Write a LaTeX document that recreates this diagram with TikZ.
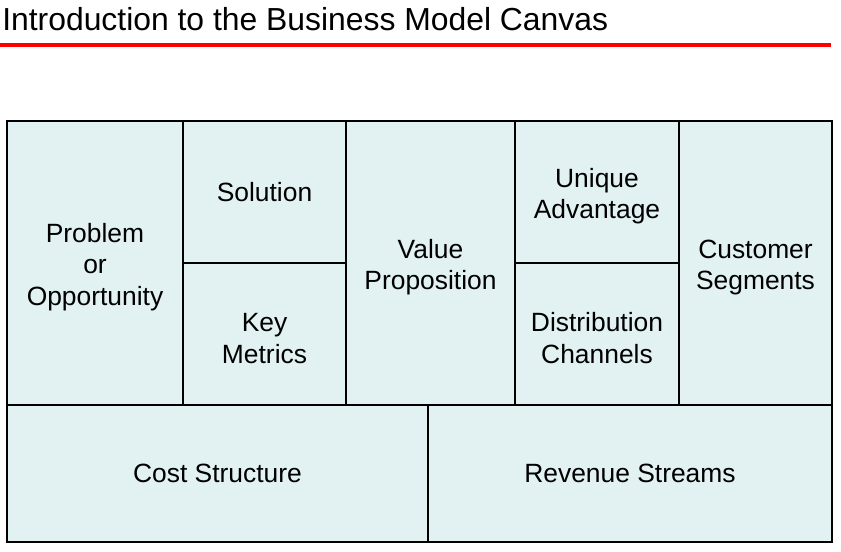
\documentclass[tikz,border=0pt]{standalone}
\usepackage{fontspec}
\setmainfont{Liberation Sans}
\definecolor{canvasfill}{HTML}{E2F1F1}
\definecolor{titlered}{HTML}{FF0000}
\newcommand\liftstrut{\rule{0pt}{20.5pt}}

\begin{document}
\begin{tikzpicture}[x=0.75pt, y=-0.75pt,
  cell/.style 2 args={draw=black, line width=1.5pt, fill=canvasfill,
    minimum width=#1*0.75pt, minimum height=#2*0.75pt, inner sep=0pt,
    align=center, font=\fontsize{19.8}{23.5}\selectfont}]
\useasboundingbox (0,0) rectangle (841,551);
% heading and red rule
\node[anchor=base west, inner sep=0pt, font=\fontsize{23.9}{28}\selectfont] (title) at (2,30) {Introduction to the Business Model Canvas};
\coordinate (rulestart) at (0,44.5);
\coordinate (ruleend) at (831,44.5);
\draw[titlered, line width=3pt] (rulestart) -- (ruleend);
% upper row of the canvas
\node[cell={176}{284}] (problem) at (95,263) {\liftstrut Problem\\or\\Opportunity};
\node[cell={163}{142}] (solution) at (264.5,192) {Solution};
\node[cell={163}{142}] (metrics) at (264.5,334) {\liftstrut Key\\Metrics};
\node[cell={169}{284}] (value) at (430.5,263) {\liftstrut Value\\Proposition};
\node[cell={164}{142}] (advantage) at (597,192) {\liftstrut Unique\\Advantage};
\node[cell={164}{142}] (channels) at (597,334) {\liftstrut Distribution\\Channels};
\node[cell={153}{284}] (segments) at (755.5,263) {\liftstrut Customer\\Segments};
% lower row
\node[cell={421}{137}] (cost) at (217.5,473.5) {Cost Structure};
\node[cell={404}{137}] (revenue) at (630,473.5) {Revenue Streams};
\end{tikzpicture}
\end{document}
